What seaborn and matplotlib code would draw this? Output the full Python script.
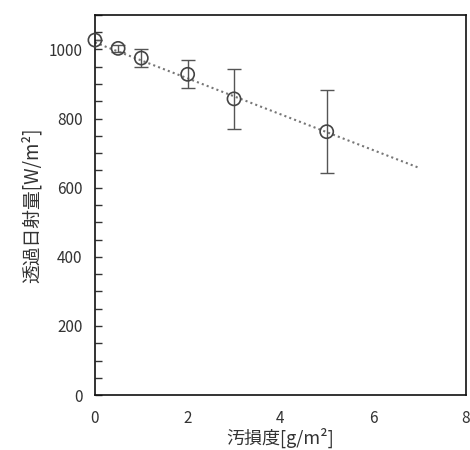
import matplotlib
matplotlib.use("Agg")
import matplotlib.pyplot as plt
import seaborn as sns
import pandas as pd

# data
soiling = [0.0, 0.5, 1.0, 2.0, 3.0, 5.0]
irradiance = [1027, 1003, 975, 928, 857, 762]
err = [0, 10, 26, 40, 87, 120]
fit_x = [0.0, 7.0]
fit_y = [1020, 657]

sns.set_style("white")
plt.rcParams['font.family'] = ['Noto Sans CJK JP', 'DejaVu Sans']

fig = plt.figure(figsize=(4.7, 4.5), dpi=100)
ax = fig.add_axes([0.202, 0.122, 0.789, 0.845])

df = pd.DataFrame({"x": soiling, "y": irradiance})
fit = pd.DataFrame({"x": fit_x, "y": fit_y})

sns.lineplot(data=fit, x="x", y="y", ax=ax, color="#777777", linestyle=(0, (1, 1.5)), linewidth=1.5)
ax.errorbar(soiling, irradiance, yerr=err, fmt="none", ecolor="#555555", elinewidth=1, capsize=5, capthick=1)
sns.scatterplot(data=df, x="x", y="y", ax=ax, marker="o", s=90, facecolor="none",
                edgecolor="#444444", linewidth=1.2, zorder=5, clip_on=False)

ax.set_xlim(0, 8)
ax.set_ylim(0, 1100)
ax.set_xticks([0, 2, 4, 6, 8])
ax.set_yticks(range(0, 1001, 200))
ax.set_yticks(range(0, 1101, 50), minor=True)
ax.tick_params(axis="y", which="both", left=True, direction="in", length=5, width=1, color="#333333",
               labelsize=11, labelcolor="#333333", pad=9)
ax.tick_params(axis="x", which="both", bottom=False, length=0, labelsize=11, labelcolor="#333333", pad=11)
for s in ax.spines.values():
    s.set_color("#111111")
    s.set_linewidth(1.2)
    s.set_visible(True)

ax.set_xlabel("汚損度[g/m²]", fontsize=13, color="#333333", labelpad=0)
ax.set_ylabel("透過日射量[W/m²]", fontsize=13.5, color="#333333", labelpad=4)

fig.savefig("out.png", dpi=100)
